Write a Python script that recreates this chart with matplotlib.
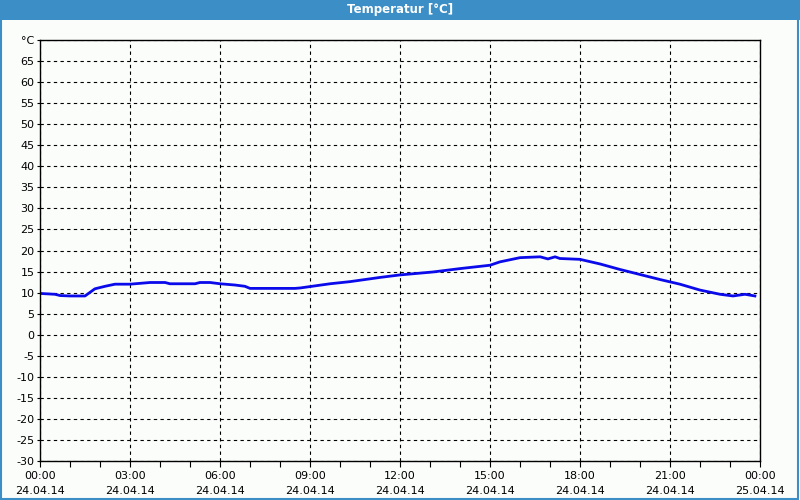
import matplotlib
matplotlib.use("Agg")
import matplotlib.pyplot as plt
from matplotlib.patches import Rectangle
import numpy as np

# hours since 24.04.14 00:00 and temperature
hours = [0.0, 0.5, 0.67, 1.0, 1.5, 1.83, 2.17, 2.5, 3.0, 3.67, 4.17, 4.33, 5.17,
         5.33, 5.67, 6.0, 6.5, 6.83, 7.0, 8.5, 8.67, 9.67, 10.33, 11.33, 12.0,
         13.1, 14.0, 15.0, 15.33, 16.0, 16.67, 16.93, 17.17, 17.33, 18.0, 18.67,
         19.33, 20.0, 20.67, 21.33, 22.0, 22.67, 23.1, 23.5, 23.83]
temps = [9.8, 9.6, 9.3, 9.2, 9.2, 10.9, 11.5, 12.0, 12.0, 12.4, 12.4, 12.1, 12.1,
         12.4, 12.4, 12.1, 11.8, 11.5, 11.0, 11.0, 11.1, 12.1, 12.6, 13.6, 14.2,
         14.9, 15.7, 16.5, 17.3, 18.3, 18.5, 18.0, 18.5, 18.1, 17.9, 16.8,
         15.5, 14.3, 13.1, 12.0, 10.6, 9.6, 9.2, 9.6, 9.2]

x_ticks = [0, 3, 6, 9, 12, 15, 18, 21, 24]
x_labels = ["00:00\n24.04.14", "03:00\n24.04.14", "06:00\n24.04.14",
            "09:00\n24.04.14", "12:00\n24.04.14", "15:00\n24.04.14",
            "18:00\n24.04.14", "21:00\n24.04.14", "00:00\n25.04.14"]
y_ticks = list(range(-30, 75, 5))
y_labels = [str(v) for v in y_ticks[:-1]] + ["°C"]

blue = "#3c8fc6"

fig = plt.figure(figsize=(8, 5), dpi=100, facecolor="#fbfdfb")

# title bar and window frame
fig.patches.append(Rectangle((0, 0.96), 1, 0.04, transform=fig.transFigure,
                             facecolor=blue, edgecolor="none", zorder=0))
fig.patches.append(Rectangle((0.001, 0.002), 0.997, 0.997, transform=fig.transFigure,
                             facecolor="none", edgecolor=blue, linewidth=1.5, zorder=1))
fig.text(0.5, 0.98, "Temperatur [°C]", color="white", fontsize=8.5,
         fontweight="bold", ha="center", va="center")

ax = fig.add_axes([0.05, 0.078, 0.90, 0.842])
ax.set_facecolor("#fbfdfb")
ax.plot(hours, temps, color="#0a0aeb", linewidth=2)

ax.set_xlim(0, 24)
ax.set_ylim(-30, 70)
ax.set_xticks(x_ticks)
ax.set_xticklabels(x_labels, fontsize=8, linespacing=1.7)
ax.set_xticks(range(0, 25), minor=True)
ax.set_yticks(y_ticks)
ax.set_yticklabels(y_labels, fontsize=8)

ax.grid(True, color="black", linestyle=(0, (3, 3)), linewidth=0.8)
ax.tick_params(axis="x", which="major", length=4, width=0.8, pad=3)
ax.tick_params(axis="x", which="minor", length=4, width=0.8)
ax.tick_params(axis="y", length=2, width=0.8, pad=2)
for s in ax.spines.values():
    s.set_linewidth(1.0)

fig.savefig("out.png", dpi=100, facecolor=fig.get_facecolor())
